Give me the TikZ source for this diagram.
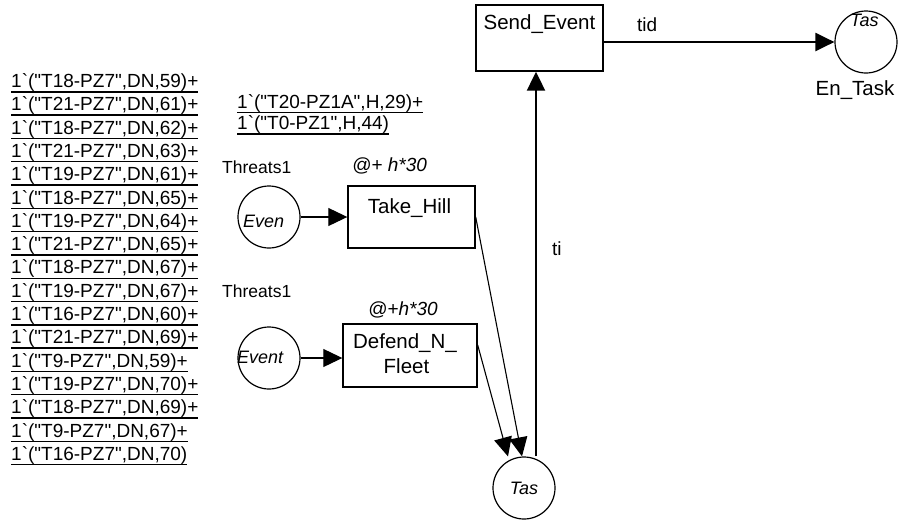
\documentclass[tikz,border=0pt]{standalone}
\usepackage{fontspec}
\setmainfont{Liberation Sans}[Ligatures=TeXOff]
\usetikzlibrary{arrows.meta}
\newcommand{\bq}{\symbol{96}}
\newcommand{\ulx}[1]{\setbox0\hbox{#1}\rlap{\rule[-5pt]{\wd0}{1.4pt}}\box0}
\begin{document}
\begin{tikzpicture}[x=1pt,y=-1pt,
  pbox/.style={draw, line width=1.4pt, inner sep=0pt, rectangle},
  place/.style={draw, circle, line width=1.2pt, inner sep=0pt, minimum size=62pt},
  txt/.style={inner sep=0pt, anchor=base, font=\fontsize{20.5}{24}\selectfont},
  ann/.style={inner sep=0pt, anchor=base west, font=\fontsize{19}{23}\selectfont},
  lab/.style={inner sep=0pt, anchor=base west, font=\fontsize{17.5}{21}\selectfont},
  itx/.style={inner sep=0pt, anchor=base west, font=\fontsize{18}{22}\selectfont\itshape},
  arc/.style={-{Triangle[length=19pt,width=18pt]}, line width=1.1pt},
  thickarc/.style={-{Triangle[length=19pt,width=18pt]}, line width=2.2pt}
]
\useasboundingbox (0,0) rectangle (898,523);

% left marking block
\foreach \t [count=\i] in {
  {1\bq("T18-PZ7",DN,59)+},
  {1\bq("T21-PZ7",DN,61)+},
  {1\bq("T18-PZ7",DN,62)+},
  {1\bq("T21-PZ7",DN,63)+},
  {1\bq("T19-PZ7",DN,61)+},
  {1\bq("T18-PZ7",DN,65)+},
  {1\bq("T19-PZ7",DN,64)+},
  {1\bq("T21-PZ7",DN,65)+},
  {1\bq("T18-PZ7",DN,67)+},
  {1\bq("T19-PZ7",DN,67)+},
  {1\bq("T16-PZ7",DN,60)+},
  {1\bq("T21-PZ7",DN,69)+},
  {1\bq("T9-PZ7",DN,59)+},
  {1\bq("T19-PZ7",DN,70)+},
  {1\bq("T18-PZ7",DN,69)+},
  {1\bq("T9-PZ7",DN,67)+},
  {1\bq("T16-PZ7",DN,70)}}
  \node[ann] (m\i) at (11,{87.5+23.3*(\i-1)}) {\ulx{\t}};

% second marking block
\node[ann] (ma1) at (237,108) {\ulx{1\bq("T20-PZ1A",H,29)+}};
\node[ann] (ma2) at (237,129.5) {\ulx{1\bq("T0-PZ1",H,44)}};

% transitions
\node[pbox, minimum width=127pt, minimum height=66pt] (se) at (539.5,38) {};
\node[txt] (selab) at (539.5,29.5) {Send\_Event};
\node[pbox, minimum width=127pt, minimum height=62pt] (th) at (411.5,217) {};
\node[txt] (thlab) at (409.5,213.3) {Take\_Hill};
\node[pbox, minimum width=134pt, minimum height=63pt] (df) at (410,355.5) {};
\node[txt] (dflab1) at (405,348.3) {Defend\_N\_};
\node[txt] (dflab2) at (406.5,373.3) {Fleet};

% places
\node[place] (ev1) at (269,217) {};
\node[itx] (ev1t) at (243,227) {Even};
\node[place] (ev2) at (269,358) {};
\node[itx] (ev2t) at (237,363) {Event};
\node[place] (tas) at (524,488) {};
\node[itx, anchor=base] (tast) at (524,494) {Tas};
\node[place] (en) at (866,42) {};
\node[itx] (ent) at (850,26.5) {Tas};
\node[txt] (enlab) at (855,95) {En\_Task};

% labels
\node[lab] (thr1) at (222,173) {Threats1};
\node[lab] (thr2) at (222,297) {Threats1};
\node[itx, font=\fontsize{19}{22}\selectfont\itshape] (del1) at (352,171.5) {@+ h*30};
\node[itx, font=\fontsize{19}{22}\selectfont\itshape] (del2) at (368,315) {@+h*30};
\node[lab, font=\fontsize{19}{22}\selectfont] (tid) at (637,31.5) {tid};
\node[lab, font=\fontsize{19}{22}\selectfont] (ti) at (552,255) {ti};

% arcs
\draw[arc] (ev1.east) -- (ev1.east -| th.west);
\draw[arc] (ev2.east) -- (ev2.east -| df.west);
\draw[arc] (th.east) -- ([xshift=-2pt]tas.north);
\draw[arc] ([yshift=10.5pt]df.east) -- ([xshift=-16pt]tas.north);
\draw[thickarc] ([xshift=12pt]tas.north) -- ([xshift=12pt]tas.north |- se.south);
\draw[thickarc] (se.east |- en.west) -- (en.west);
\end{tikzpicture}
\end{document}
